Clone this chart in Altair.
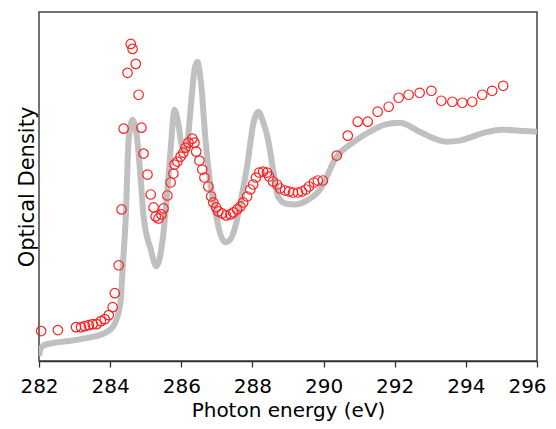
import altair as alt
import pandas as pd

# Gray reference spectrum (photon energy in eV, optical density, arbitrary units)
line_ev = [282.00, 282.04, 282.15, 282.39, 282.84, 283.32, 283.79, 284.07, 284.21, 284.30,
           284.35, 284.44, 284.52, 284.63, 284.77, 284.86, 284.94, 285.14, 285.30, 285.50,
           285.61, 285.70, 285.81, 285.92, 286.03, 286.14, 286.26, 286.37, 286.45, 286.56,
           286.68, 286.82, 286.96, 287.10, 287.24, 287.38, 287.52, 287.68, 287.85, 288.02,
           288.16, 288.30, 288.44, 288.58, 288.72, 288.92, 289.20, 289.48, 289.90, 290.37,
           290.82, 291.30, 291.72, 292.14, 292.70, 293.12, 293.45, 293.82, 294.10, 294.52,
           295.02, 295.50, 296.00]
line_od = [0.05, 0.12, 0.16, 0.18, 0.20, 0.23, 0.27, 0.34, 0.45, 0.62,
           0.92, 1.45, 2.22, 2.42, 2.19, 1.82, 1.45, 1.12, 0.95, 1.29,
           1.72, 2.12, 2.52, 2.37, 2.14, 2.12, 2.52, 2.92, 3.00, 2.77,
           2.22, 1.77, 1.49, 1.27, 1.19, 1.22, 1.35, 1.62, 1.95, 2.37,
           2.50, 2.40, 2.22, 1.92, 1.65, 1.58, 1.57, 1.60, 1.72, 2.05,
           2.19, 2.30, 2.37, 2.39, 2.30, 2.23, 2.20, 2.21, 2.24, 2.29,
           2.32, 2.31, 2.30]

# Red measured points
pt_ev = [282.06, 282.53, 283.04, 283.18, 283.29, 283.40, 283.51, 283.62, 283.74, 283.85,
         283.96, 284.07, 284.13, 284.24, 284.32, 284.38, 284.49, 284.58, 284.63, 284.72,
         284.80, 284.88, 284.94, 285.05, 285.14, 285.22, 285.28, 285.36, 285.44, 285.50,
         285.61, 285.70, 285.78, 285.81, 285.89, 285.98, 286.06, 286.12, 286.20, 286.31,
         286.37, 286.42, 286.51, 286.59, 286.65, 286.76, 286.84, 286.90, 286.98, 287.04,
         287.15, 287.26, 287.38, 287.46, 287.57, 287.66, 287.74, 287.85, 287.94, 288.02,
         288.10, 288.19, 288.30, 288.41, 288.47, 288.58, 288.69, 288.78, 288.92, 289.03,
         289.14, 289.28, 289.39, 289.50, 289.59, 289.73, 289.84, 289.98, 290.37, 290.68,
         290.96, 291.24, 291.52, 291.83, 292.11, 292.39, 292.70, 293.03, 293.31, 293.62,
         293.90, 294.18, 294.46, 294.74, 295.05]
pt_od = [0.30, 0.31, 0.34, 0.34, 0.35, 0.36, 0.37, 0.37, 0.40, 0.42,
         0.46, 0.54, 0.68, 0.96, 1.52, 2.33, 2.89, 3.18, 3.13, 2.98,
         2.67, 2.34, 2.08, 1.87, 1.67, 1.54, 1.45, 1.43, 1.47, 1.53,
         1.66, 1.79, 1.88, 1.97, 2.00, 2.05, 2.09, 2.14, 2.19, 2.23,
         2.19, 2.10, 2.01, 1.92, 1.84, 1.75, 1.65, 1.59, 1.54, 1.50,
         1.48, 1.46, 1.47, 1.49, 1.52, 1.55, 1.59, 1.65, 1.72, 1.77,
         1.84, 1.89, 1.90, 1.89, 1.85, 1.80, 1.77, 1.73, 1.71, 1.70,
         1.69, 1.69, 1.70, 1.72, 1.75, 1.79, 1.81, 1.81, 2.06, 2.26,
         2.40, 2.40, 2.50, 2.55, 2.64, 2.67, 2.69, 2.71, 2.61, 2.60,
         2.59, 2.60, 2.67, 2.71, 2.76]

x_ticks = list(range(282, 297))

line_df = pd.DataFrame({"ev": line_ev, "od": line_od})
pt_df = pd.DataFrame({"ev": pt_ev, "od": pt_od})

FONT = "DejaVu Sans"

x_enc = alt.X(
    "ev:Q",
    scale=alt.Scale(domain=[282, 296], nice=False, zero=False),
    axis=alt.Axis(
        title="Photon energy (eV)",
        values=x_ticks,
        labelExpr="datum.value % 2 == 0 ? datum.label : ''",
        labelOverlap=False,
        labelFlush=False,
        labelOffset={"condition": {"test": "datum.value == 296", "value": -10}, "value": 0},
        tickSize={"condition": {"test": "datum.value % 2 == 0", "value": 6}, "value": 4},
        tickColor="#333333",
        tickWidth=1.3,
        domainColor="#333333",
        domainWidth=1.5,
        grid=False,
        labelFont=FONT,
        labelFontSize=20,
        labelColor="#000000",
        labelPadding=9,
        titleFont=FONT,
        titleFontSize=20,
        titleFontWeight="normal",
        titleColor="#000000",
        titlePadding=4,
    ),
)
y_enc = alt.Y(
    "od:Q",
    scale=alt.Scale(domain=[0, 3.5], nice=False, zero=False),
    axis=alt.Axis(
        title="Optical Density",
        labels=False,
        ticks=False,
        domain=False,
        grid=False,
        titleFont=FONT,
        titleFontSize=21,
        titleFontWeight="normal",
        titleColor="#000000",
        titlePadding=2,
    ),
)

line = alt.Chart(line_df).mark_line(
    color="#c0c0c0", strokeWidth=6, interpolate="monotone", clip=True
).encode(x=x_enc, y=y_enc)

points = alt.Chart(pt_df).mark_point(
    shape="circle", size=90, color="#ff2020", strokeWidth=1.2, filled=False, opacity=1
).encode(x=alt.X("ev:Q"), y=alt.Y("od:Q"))

chart = alt.layer(line, points).properties(
    width=498,
    height=349,
    background="white",
    autosize=alt.AutoSizeParams(type="none"),
    padding={"left": 31, "top": 4, "right": 11, "bottom": 60},
).configure_view(stroke="#444444", strokeWidth=1.5)

chart.save("out.html", embed_options={"renderer": "svg", "actions": False})
